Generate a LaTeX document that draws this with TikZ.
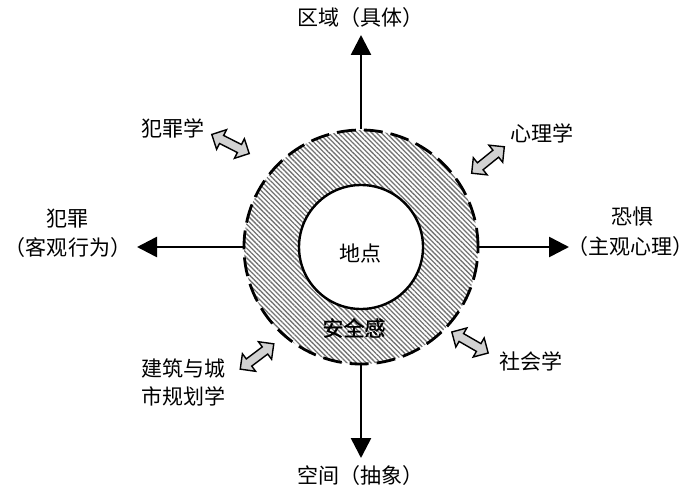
\documentclass[tikz,border=0pt]{standalone}
\usepackage{fontspec}
\newfontfamily\cjk{Noto Sans CJK SC}
\newfontfamily\cjkb[FakeBold=1.2]{Noto Sans CJK SC}
\usetikzlibrary{arrows.meta,patterns.meta}
\newcommand\dblarrow[3]{%
  \begin{scope}[shift={(#1,#2)},rotate=#3]
    \draw[garrow] (-21,0) -- (-10,11) -- (-10,4.5) -- (10,4.5) -- (10,11) -- (21,0)
      -- (10,-11) -- (10,-4.5) -- (-10,-4.5) -- (-10,-11) -- cycle;
  \end{scope}}
\begin{document}
\begin{tikzpicture}[x=1pt,y=-1pt,
  lbl/.style={font=\cjk\fontsize{21}{25}\selectfont, inner sep=0pt},
  axis/.style={line width=2.6pt, -{Triangle[length=20pt,width=20pt]}},
  garrow/.style={draw=black, line width=1.4pt, fill=gray!35, line join=miter},
  ringstyle/.style={circle, draw, line width=2.8pt, dash pattern=on 19pt off 8pt,
    minimum size=234pt, inner sep=0pt,
    pattern={Lines[angle=-45,distance=3.4pt,line width=1.3pt]}, pattern color=black!55},
  placestyle/.style={circle, draw, line width=2.4pt, fill=white, minimum size=124pt, inner sep=0pt}]
\useasboundingbox (0,0) rectangle (700,492);
\fill[white] (0,0) rectangle (700,492);
\node[ringstyle] (ring) at (361,247) {};
\node[placestyle] (place) at (361,247) {};
\node[lbl] (didian) at (360,254) {地点};
\node[lbl, font=\cjkb\fontsize{21}{25}\selectfont] (anquan) at (354,328) {安全感};
% axis arrows
\coordinate (tipT) at (361,35);
\coordinate (tipB) at (361,458);
\coordinate (tipL) at (137,247);
\coordinate (tipR) at (569,247);
\draw[axis] (ring.north) -- (tipT);
\draw[axis] (ring.south) -- (tipB);
\draw[axis] (ring.west) -- (tipL);
\draw[axis] (ring.east) -- (tipR);
% labels
\node[lbl] (top) at (360,18) {区域（具体）};
\node[lbl] (bot) at (360,476) {空间（抽象）};
\node[lbl] (fz1) at (67,219) {犯罪};
\node[lbl] (fz2) at (68,248) {（客观行为）};
\node[lbl] (kj1) at (632,217) {恐惧};
\node[lbl] (kj2) at (630,247) {（主观心理）};
\node[lbl] (fzx) at (173,128) {犯罪学};
\node[lbl] (xlx) at (542,133) {心理学};
\node[lbl] (jz1) at (183,368) {建筑与城};
\node[lbl] (jz2) at (183,396) {市规划学};
\node[lbl] (shx) at (531,361) {社会学};
% gray double arrows
\dblarrow{230.5}{144}{-27}
\dblarrow{488}{160}{39}
\dblarrow{257}{356.5}{37}
\dblarrow{470}{342.5}{-30}
\end{tikzpicture}
\end{document}
